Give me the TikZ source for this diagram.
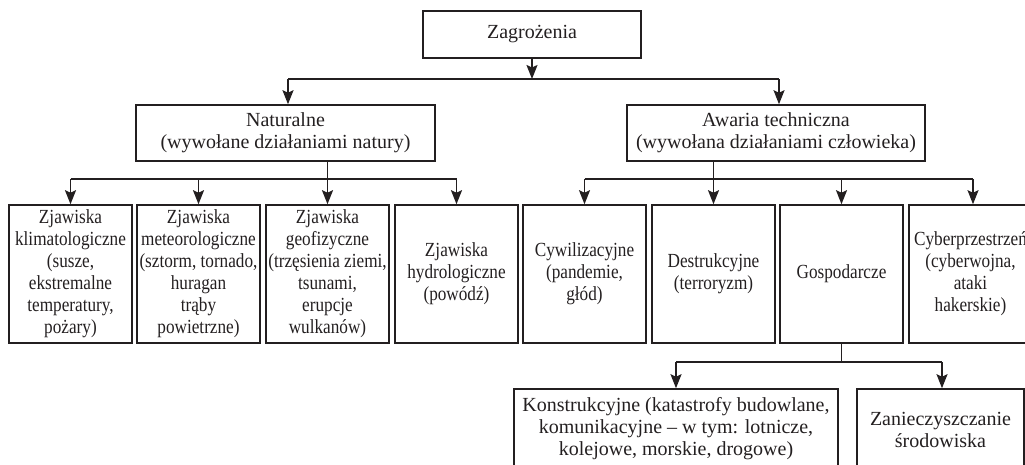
\documentclass[tikz,border=0pt]{standalone}
\usepackage{fontspec}
\setmainfont{Liberation Serif}
\newfontfamily\narrowserif[FakeStretch=0.86]{Liberation Serif}
\usetikzlibrary{arrows.meta}
\definecolor{ink}{HTML}{231F20}
\tikzset{
  box/.style={draw=ink, line width=1.6pt, text=ink, inner sep=0pt, align=center,
    font=\fontsize{20}{22}\selectfont},
  kind/.style={box, minimum width=123pt, minimum height=138pt,
    font=\narrowserif\fontsize{20}{22}\selectfont},
  link/.style={draw=ink, line width=1.6pt},
  arr/.style={link, -{Stealth[length=14pt,width=11pt,inset=2.5pt]}},
}
\begin{document}
\begin{tikzpicture}[x=1pt,y=-1pt]
\useasboundingbox (0,0) rectangle (1025,464);
\clip (0,0) rectangle (1025,464);

% root
\node[box, minimum width=218pt, minimum height=47pt] (root) at (532,34.5) {Zagrożenia};

% second level
\node[box, minimum width=299pt, minimum height=56pt] (nat) at (285.5,133)
  {Naturalne\\(wywołane działaniami natury)};
\node[box, minimum width=298pt, minimum height=56pt] (tech) at (776,133)
  {Awaria techniczna\\(wywołana działaniami człowieka)};

% third level
\node[kind] (b1) at (70.5,274) {Zjawiska\\klimatologiczne\\(susze,\\ekstremalne\\temperatury,\\pożary)};
\node[kind] (b2) at (198.5,274) {Zjawiska\\meteorologiczne\\(sztorm, tornado,\\huragan\\trąby\\powietrzne)};
\node[kind] (b3) at (327.5,274) {Zjawiska\\geofizyczne\\(trzęsienia ziemi,\\tsunami,\\erupcje\\wulkanów)};
\node[kind] (b4) at (456.5,274) {Zjawiska\\hydrologiczne\\(powódź)};
\node[kind] (b5) at (584.5,274) {Cywilizacyjne\\(pandemie,\\głód)};
\node[kind] (b6) at (713.5,274) {Destrukcyjne\\(terroryzm)};
\node[kind] (b7) at (841.5,274) {Gospodarcze};
\node[kind] (b8) at (970.5,274) {Cyberprzestrzeń\\(cyberwojna,\\ataki\\hakerskie)};

% fourth level
\node[box, minimum width=324pt, minimum height=81pt, align=none] (kon) at (676,429.5)
  {\raisebox{6pt}{\begin{tabular}{@{}c@{}}Konstrukcyjne (katastrofy budowlane,\\komunikacyjne – w tym: lotnicze,\\kolejowe, morskie, drogowe)\end{tabular}}};
\node[box, minimum width=167pt, minimum height=81pt] (env) at (940.5,429.5)
  {Zanieczyszczanie\\środowiska};

% bus lines
\coordinate (rbus) at (532,79);
\coordinate (rl) at (288,79);
\coordinate (rr) at (779,79);
\coordinate (lbus) at (0,179);
\coordinate (gbus) at (0,362);

% root -> second level
\draw[arr] (root.south) -- (rbus);
\draw[link] (rl) -- (rr);
\draw[arr] (rl) -- (rl |- nat.north);
\draw[arr] (rr) -- (rr |- tech.north);

% natural hazards
\draw[arr] (b3.north |- nat.south) -- (b3.north);
\draw[link] (b1.north |- lbus) -- (b4.north |- lbus);
\draw[arr] (b1.north |- lbus) -- (b1.north);
\draw[arr] (b2.north |- lbus) -- (b2.north);
\draw[arr] (b4.north |- lbus) -- (b4.north);

% technical failures
\draw[arr] (b6.north |- tech.south) -- (b6.north);
\draw[link] (b5.north |- lbus) -- ([xshift=2.5pt]b8.north |- lbus);
\draw[arr] (b5.north |- lbus) -- (b5.north);
\draw[arr] (b7.north |- lbus) -- (b7.north);
\draw[arr] ([xshift=2.5pt]b8.north |- lbus) -- ([xshift=2.5pt]b8.north);

% economic branch
\draw[link] (b7.south) -- (b7.south |- gbus);
\draw[link] (kon.north |- gbus) -- ([xshift=1.5pt]env.north |- gbus);
\draw[arr] (kon.north |- gbus) -- (kon.north);
\draw[arr] ([xshift=1.5pt]env.north |- gbus) -- ([xshift=1.5pt]env.north);
\end{tikzpicture}
\end{document}
